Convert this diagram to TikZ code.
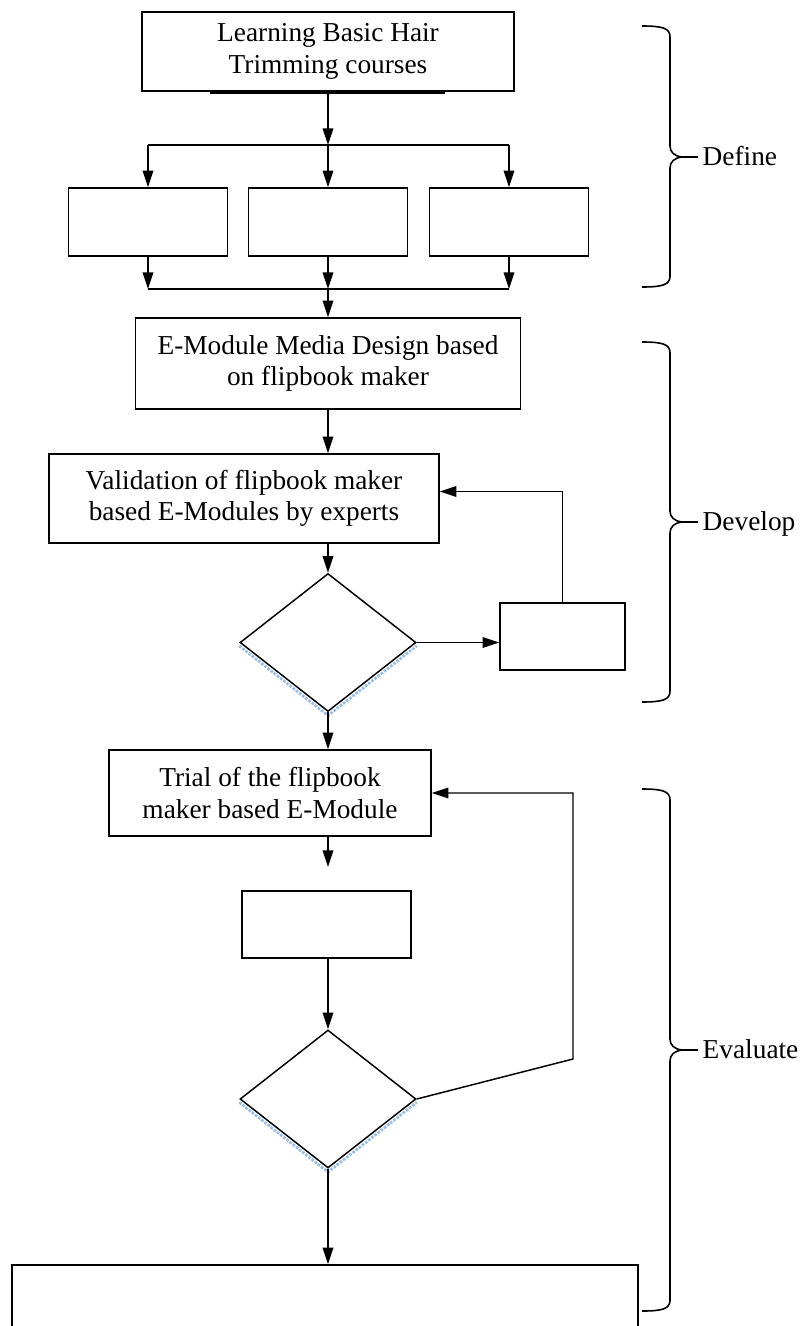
\documentclass[tikz,border=0pt]{standalone}
\usepackage{fontspec}
\setmainfont{Liberation Serif}
\usetikzlibrary{arrows.meta,shapes.geometric,calc}
\begin{document}
\begin{tikzpicture}[x=0.75pt,y=-0.75pt,
  line width=1.1pt,
  box/.style={draw, rectangle, inner sep=0pt, align=center, font=\fontsize{20.5}{23.5}\selectfont},
  dia/.style={draw, diamond, inner sep=0pt, minimum width=132pt, minimum height=103.5pt},
  arr/.style={-{Triangle[length=12.5pt,width=8pt]}},
  lbl/.style={anchor=base west, inner sep=0pt, font=\fontsize{20.5}{23.5}\selectfont},
  br/.style={line width=1.2pt},
  shadeline/.style={draw={rgb,255:red,150;green,190;blue,235}, densely dotted, line width=2pt}
]
\clip (0,0) rectangle (800,1326);
\fill[white] (0,0) rectangle (800,1326);

% nodes
\node[box, minimum width=279pt, minimum height=59.25pt] (top) at (328,51.5) {Learning Basic Hair\\Trimming courses};
\coordinate (f) at (328,145);
\node[box, minimum width=119.25pt, minimum height=51pt] (b1) at (148,222) {};
\node[box, minimum width=119.25pt, minimum height=51pt] (b2) at (328,222) {};
\node[box, minimum width=119.25pt, minimum height=51pt] (b3) at (509,222) {};
\coordinate (j) at (328,289);
\node[box, minimum width=288.75pt, minimum height=68.25pt] (m) at (328,363.5) {E-Module Media Design based\\on flipbook maker};
\node[box, minimum width=292.5pt, minimum height=66.75pt] (v) at (244,498.5) {Validation of flipbook maker\\based E-Modules by experts};
\node[dia] (d1) at (328,642.5) {};
\node[box, minimum width=93.75pt, minimum height=50.25pt] (r1) at (562.5,636.5) {};
\node[box, minimum width=241.5pt, minimum height=64.5pt] (t) at (270,793) {Trial of the flipbook\\maker based E-Module};
\coordinate (e) at (328,867);
\node[box, minimum width=126.75pt, minimum height=50.25pt] (b5) at (326.5,924.5) {};
\node[dia] (d2) at (328,1099) {};
\coordinate (k) at (573,1059);
\node[box, minimum width=469.5pt, minimum height=60pt] (last) at (325,1305) {};

% artifact under top box
\draw[line width=2.2pt] (210,92.5) -- (445,92.5);

% diamond shadows
\draw[shadeline] ([yshift=-2.5pt]d1.west) -- ([yshift=-2.5pt]d1.south) -- ([yshift=-2.5pt]d1.east);
\draw[shadeline] ([yshift=-2.5pt]d2.west) -- ([yshift=-2.5pt]d2.south) -- ([yshift=-2.5pt]d2.east);

% connectors
\draw[arr] (top.south) -- (f);
\draw (b1.north |- f) -- (b3.north |- f);
\draw[arr] (f) -- (b2.north);
\draw[arr] (b1.north |- f) -- (b1.north);
\draw[arr] (b3.north |- f) -- (b3.north);
\draw[arr] (b1.south) -- (b1.south |- j);
\draw[arr] (b2.south) -- (j);
\draw[arr] (b3.south) -- (b3.south |- j);
\draw (b1.south |- j) -- (b3.south |- j);
\draw[arr] (j) -- (m.north);
\draw[arr] (m.south) -- (m.south |- v.north);
\draw[arr] (d1.north |- v.south) -- (d1.north);
\draw[arr] (d1.east) -- (d1.east -| r1.west);
\draw[arr] (r1.north) |- ([yshift=5.25pt]v.east);
\draw[arr] (d1.south) -- (d1.south |- t.north);
\draw[arr] (d1.south |- t.south) -- (e);
\draw[arr] (d2.north |- b5.south) -- (d2.north);
\draw[arr] (d2.east) -- (k) |- (t.east);
\draw[arr] (d2.south) -- (d2.south |- last.north);

% braces
\draw[br] (642,26) .. controls (662,26) and (670,28) .. (670,37) -- (670,146)
  .. controls (670,152) and (674,156) .. (682,157) -- (698,157)
  (682,157) .. controls (674,158) and (670,162) .. (670,168) -- (670,276)
  .. controls (670,285) and (662,287) .. (642,287);
\node[lbl] (def) at (702,166) {Define};
\draw[br] (642,342) .. controls (662,342) and (670,344) .. (670,353) -- (670,511)
  .. controls (670,517) and (674,521) .. (682,522) -- (698,522)
  (682,522) .. controls (674,523) and (670,527) .. (670,533) -- (670,691)
  .. controls (670,700) and (662,702) .. (642,702);
\node[lbl] (dev) at (702,530) {Develop};
\draw[br] (642,789) .. controls (662,789) and (670,791) .. (670,800) -- (670,1039)
  .. controls (670,1045) and (674,1049) .. (682,1050) -- (698,1050)
  (682,1050) .. controls (674,1051) and (670,1055) .. (670,1061) -- (670,1300)
  .. controls (670,1309) and (662,1311) .. (642,1311);
\node[lbl] (eva) at (702,1058) {Evaluate};
\end{tikzpicture}
\end{document}
